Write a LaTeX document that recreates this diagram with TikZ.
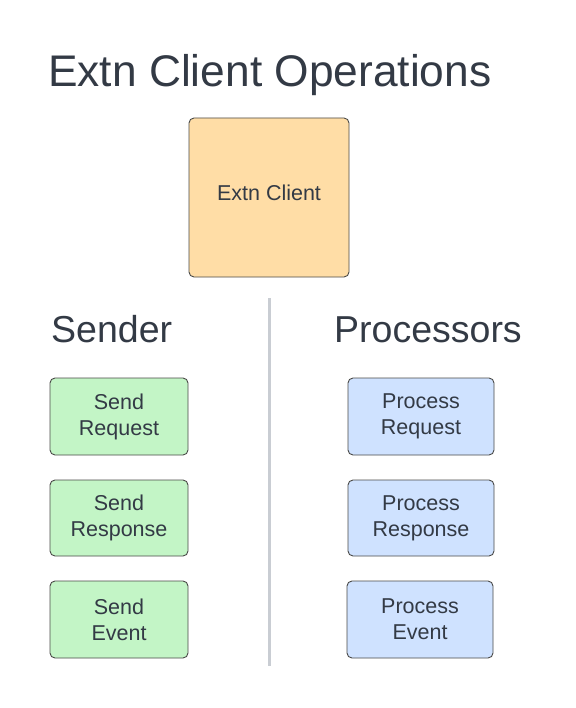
\documentclass[tikz,border=0pt]{standalone}
\usepackage{fontspec}
\setmainfont{Liberation Sans}
\definecolor{txt}{HTML}{333A45}
\definecolor{edge}{HTML}{4A4A48}
\definecolor{orangefill}{HTML}{FFDDA6}
\definecolor{greenfill}{HTML}{C3F5C6}
\definecolor{bluefill}{HTML}{CFE2FF}
\definecolor{divider}{HTML}{C9CDD3}
\begin{document}
\begin{tikzpicture}[x=1pt,y=-1pt,
  box/.style={draw=edge, line width=0.9pt, rounded corners=5pt, text=txt, align=center,
    font=\fontsize{21.5}{26}\selectfont, inner sep=0pt},
  greenbox/.style={box, fill=greenfill},
  bluebox/.style={box, fill=bluefill},
  heading/.style={text=txt, anchor=base west, inner sep=0pt}]
\useasboundingbox[fill=white] (0,0) rectangle (575,708);
\node[heading, font=\fontsize{44.3}{50}\selectfont] (title) at (48,87) {Extn Client Operations};
\node[box, fill=orangefill, minimum width=160pt, minimum height=159pt] (client) at (269,197.5) {};
\node[text=txt, font=\fontsize{21.5}{26}\selectfont, inner sep=0pt] (clientlabel) at (269,193) {Extn Client};
\coordinate (dtop) at (269,298);
\coordinate (dbot) at (269,666);
\draw[divider, line width=3pt] (dtop) -- (dbot);
\node[heading, font=\fontsize{37.5}{42}\selectfont] (sender) at (51,342) {Sender};
\node[heading, font=\fontsize{37.5}{42}\selectfont] (proc) at (334,342) {Processors};
\node[greenbox, minimum width=138pt, minimum height=77pt] (sreq) at (119,416.5) {Send\\Request};
\node[greenbox, minimum width=138pt, minimum height=76pt] (sres) at (119,518) {Send\\Response};
\node[greenbox, minimum width=138pt, minimum height=77pt] (sev) at (119,619.5) {Send\\Event};
\node[bluebox, minimum width=146pt, minimum height=77pt] (preq) at (421,416.5) {Process\\Request};
\node[bluebox, minimum width=146pt, minimum height=76pt] (pres) at (421,518) {Process\\Response};
\node[bluebox, minimum width=146pt, minimum height=77pt] (pev) at (420,619.5) {Process\\Event};
\end{tikzpicture}
\end{document}
